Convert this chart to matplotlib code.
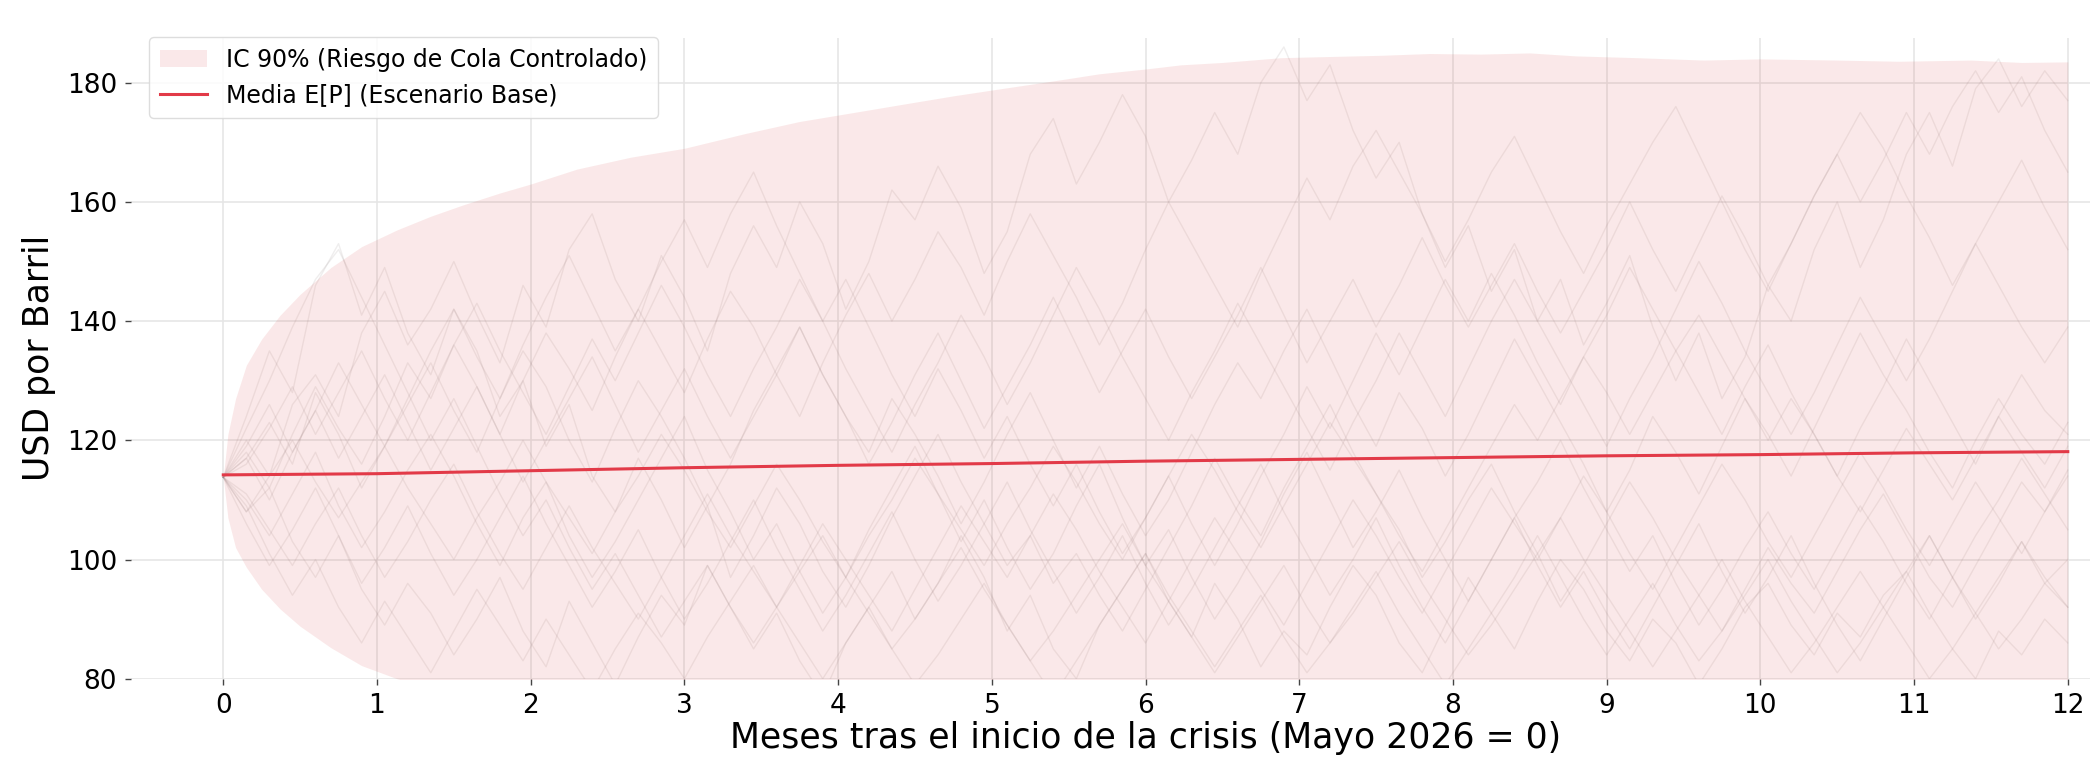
import numpy as np
import matplotlib
matplotlib.use("Agg")
import matplotlib.pyplot as plt

# --- data (USD per barrel vs months after crisis start) ---
band_t = [0, 0.03, 0.08, 0.15, 0.25, 0.37, 0.5, 0.7, 0.9, 1.13, 1.35, 1.56, 1.8, 2.0,
          2.3, 2.65, 3.0, 3.4, 3.75, 4.1, 4.4, 4.75, 5.06, 5.4, 5.7, 6.0, 6.23, 6.5,
          6.88, 7.2, 7.53, 7.85, 8.18, 8.5, 8.8, 9.2, 9.63, 10.0, 10.5, 10.9, 11.37,
          11.7, 12.0]
band_upper = [113.8, 121, 127, 132.6, 137, 141, 144.5, 149, 152.5, 155.3, 157.6, 159.5,
              161.5, 163, 165.5, 167.5, 169, 171.5, 173.5, 175, 176.3, 177.8, 179, 180.3,
              181.5, 182.3, 183.0, 183.4, 184.2, 184.4, 184.6, 184.9, 184.8, 185, 184.5,
              184.2, 183.8, 184, 183.8, 183.6, 183.8, 183.4, 183.5]
band_lower = [113.8, 107, 102, 98.7, 95, 91.7, 88.8, 85.2, 82.2, 80.0, 78.3, 77, 75.8, 75,
              74, 73, 72.3, 71.7, 71.2, 70.8, 70.5, 70.2, 70, 69.8, 69.6, 69.5, 69.4, 69.3,
              69.2, 69.1, 69, 69, 68.9, 68.9, 68.8, 68.8, 68.7, 68.7, 68.6, 68.6, 68.6,
              68.6, 68.6]

mean_t = [0, 1, 2, 3, 4, 5, 6, 7, 8, 9, 10, 11, 12]
mean_price = [114.2, 114.4, 114.9, 115.4, 115.8, 116.1, 116.5, 116.8, 117.1, 117.4,
              117.6, 117.9, 118.1]

# a sample of the simulated paths (roughly traced, 0.15-month steps)
path_01 = [113.8, 120, 114, 126, 131, 124, 138, 145, 136, 142, 150, 141, 133, 146, 139, 152, 158, 147, 140, 151,
           144, 135, 148, 156, 149, 160, 153, 142, 150, 162, 157, 166, 159, 148, 155, 168, 174, 163, 170, 178,
           171, 160, 167, 175, 168, 180, 186, 177, 183, 172, 164, 170, 158, 149, 156, 145, 152, 140, 147, 136,
           143, 151, 139, 130, 138, 127, 134, 146, 140, 152, 160, 149, 157, 168, 175, 166, 179, 184, 176, 182, 177]
path_02 = [113.8, 108, 112, 103, 97, 104, 95, 89, 96, 91, 84, 90, 97, 88, 82, 93, 86, 79, 87, 94,
           89, 99, 92, 85, 91, 83, 77, 86, 92, 98, 90, 96, 104, 97, 88, 94, 85, 80, 89, 95,
           101, 93, 87, 96, 90, 82, 88, 84, 92, 99, 94, 86, 81, 89, 97, 91, 85, 93, 100, 95,
           88, 83, 90, 86, 79, 85, 92, 96, 89, 84, 91, 87, 94, 98, 91, 85, 80, 88, 84, 90, 86]
path_03 = [113.8, 117, 123, 116, 128, 121, 112, 119, 126, 133, 125, 118, 127, 135, 129, 120, 113, 122, 130, 124,
           117, 109, 116, 125, 132, 139, 131, 124, 118, 127, 121, 114, 106, 113, 121, 128, 120, 112, 119, 111,
           104, 110, 118, 126, 133, 127, 135, 142, 134, 126, 119, 128, 122, 114, 121, 129, 137, 130, 123, 116,
           108, 115, 124, 118, 111, 119, 127, 121, 114, 122, 130, 138, 131, 125, 118, 112, 120, 127, 121, 116, 123]
path_04 = [113.8, 124, 135, 128, 146, 153, 141, 149, 138, 131, 142, 135, 124, 130, 119, 126, 114, 108, 117, 110,
           102, 109, 97, 104, 112, 106, 98, 92, 99, 107, 114, 121, 113, 106, 99, 104, 96, 101, 94, 88,
           95, 102, 109, 117, 110, 104, 112, 119, 126, 118, 111, 105, 97, 103, 110, 116, 108, 101, 93, 99,
           106, 113, 107, 100, 94, 88, 95, 102, 96, 91, 98, 105, 111, 104, 97, 92, 99, 106, 113, 108, 115]
path_05 = [113.8, 110, 104, 111, 118, 109, 102, 108, 115, 121, 114, 106, 99, 107, 113, 104, 97, 103, 110, 117,
           124, 115, 108, 100, 106, 98, 91, 97, 105, 112, 119, 111, 103, 110, 102, 95, 101, 109, 116, 107,
           99, 105, 97, 90, 96, 103, 111, 118, 110, 102, 108, 115, 107, 100, 93, 100, 107, 113, 120, 112,
           105, 98, 104, 96, 89, 95, 102, 108, 101, 95, 102, 109, 103, 96, 90, 97, 104, 110, 117, 111, 105]
path_06 = [113.8, 118, 112, 121, 129, 122, 116, 124, 133, 127, 136, 129, 121, 130, 138, 132, 125, 134, 142, 135,
           128, 137, 145, 139, 131, 124, 133, 141, 148, 140, 147, 155, 149, 141, 150, 158, 151, 144, 136, 143,
           152, 160, 153, 146, 139, 148, 156, 164, 157, 166, 172, 165, 158, 150, 157, 165, 171, 163, 155, 148,
           156, 163, 170, 176, 168, 160, 152, 145, 153, 161, 168, 175, 169, 161, 154, 146, 153, 160, 167, 159, 152]
path_07 = [113.8, 106, 99, 105, 112, 104, 96, 102, 109, 101, 94, 100, 107, 114, 106, 99, 92, 98, 105, 97,
           90, 96, 103, 110, 102, 95, 88, 94, 101, 108, 100, 93, 99, 106, 113, 105, 98, 91, 97, 104,
           96, 89, 95, 102, 109, 116, 108, 101, 94, 100, 107, 99, 92, 86, 93, 100, 107, 99, 92, 98,
           91, 85, 92, 99, 106, 98, 91, 97, 104, 96, 89, 83, 90, 97, 104, 97, 90, 96, 103, 96, 100]
path_08 = [113.8, 119, 126, 118, 125, 133, 126, 119, 127, 135, 142, 134, 127, 136, 144, 151, 143, 135, 142, 150,
           157, 149, 158, 165, 156, 148, 140, 147, 139, 131, 124, 132, 125, 117, 124, 116, 109, 116, 108, 101,
           107, 114, 106, 99, 106, 114, 121, 129, 122, 130, 138, 131, 139, 147, 140, 148, 141, 133, 126, 134,
           141, 149, 142, 135, 128, 121, 129, 136, 128, 121, 114, 122, 129, 137, 130, 123, 116, 124, 131, 125, 121]
path_09 = [113.8, 109, 101, 94, 100, 92, 86, 93, 87, 81, 88, 95, 89, 83, 90, 84, 78, 85, 91, 86,
           80, 87, 93, 99, 92, 86, 80, 86, 92, 85, 79, 84, 90, 96, 89, 83, 77, 83, 89, 95,
           101, 94, 88, 82, 88, 94, 87, 81, 86, 92, 98, 91, 85, 79, 85, 91, 97, 104, 97, 90,
           84, 90, 96, 89, 83, 88, 94, 100, 93, 87, 81, 86, 92, 98, 104, 97, 91, 85, 90, 96, 92]
path_10 = [113.8, 116, 122, 129, 121, 128, 135, 127, 120, 128, 136, 143, 135, 128, 121, 129, 137, 130, 138, 146,
           139, 131, 124, 132, 139, 147, 140, 132, 125, 118, 126, 133, 141, 134, 126, 133, 141, 149, 142, 134,
           127, 120, 128, 135, 143, 136, 129, 122, 115, 123, 130, 138, 131, 124, 132, 140, 147, 140, 133, 126,
           119, 127, 134, 142, 150, 143, 135, 128, 121, 128, 136, 144, 137, 130, 137, 145, 153, 146, 139, 133, 139]
path_11 = [113.8, 111, 105, 99, 106, 112, 104, 97, 103, 110, 116, 108, 101, 95, 102, 109, 102, 96, 90, 97,
           104, 111, 104, 98, 92, 99, 106, 100, 94, 88, 95, 102, 109, 103, 97, 104, 111, 105, 98, 92,
           86, 93, 100, 107, 101, 95, 89, 96, 103, 110, 104, 97, 91, 98, 105, 112, 106, 100, 107, 114,
           108, 101, 95, 102, 109, 116, 110, 103, 97, 104, 111, 118, 112, 105, 99, 106, 113, 107, 101, 108, 114]
path_12 = [113.8, 117, 110, 118, 125, 117, 124, 131, 123, 115, 122, 129, 121, 113, 120, 127, 134, 126, 118, 125,
           132, 124, 117, 124, 131, 139, 131, 124, 116, 123, 131, 138, 130, 122, 129, 136, 144, 136, 128, 135,
           142, 134, 127, 134, 141, 149, 141, 133, 140, 147, 139, 146, 154, 146, 139, 146, 153, 145, 138, 145,
           152, 160, 152, 145, 153, 161, 154, 146, 153, 161, 168, 160, 167, 175, 168, 176, 182, 175, 181, 172, 165]
path_13 = [113.8, 122, 130, 139, 147, 152, 144, 136, 128, 120, 127, 119, 111, 104, 110, 102, 95, 101, 94, 87,
           93, 99, 92, 86, 92, 98, 104, 97, 91, 85, 90, 96, 102, 95, 89, 83, 88, 94, 100, 106,
           99, 93, 87, 81, 87, 93, 99, 92, 86, 91, 97, 103, 96, 90, 84, 89, 95, 101, 107, 100,
           94, 88, 82, 88, 94, 100, 93, 87, 81, 86, 92, 98, 92, 86, 80, 85, 91, 97, 103, 97, 92]
path_14 = [113.8, 108, 114, 120, 113, 107, 113, 119, 112, 106, 100, 107, 113, 120, 113, 107, 101, 108, 114, 121,
           115, 108, 102, 109, 116, 110, 103, 97, 104, 110, 117, 111, 105, 99, 106, 112, 119, 113, 106, 100,
           107, 114, 121, 115, 108, 102, 109, 116, 123, 117, 111, 104, 98, 105, 112, 119, 126, 120, 127, 134,
           128, 121, 128, 135, 141, 134, 127, 120, 127, 121, 114, 108, 115, 122, 116, 110, 117, 124, 118, 112, 119]
paths = [path_01, path_02, path_03, path_04, path_05, path_06, path_07,
         path_08, path_09, path_10, path_11, path_12, path_13, path_14]

y_ticks = [80, 100, 120, 140, 160, 180]
x_ticks = list(range(0, 13))

plt.rcParams['font.family'] = 'DejaVu Sans'

fig = plt.figure(figsize=(20.9, 7.65), dpi=100)
# axes runs a bit past the right edge (reference is cropped there)
ax = fig.add_axes([0.0627, 0.1128, 0.9708, 0.8375])

for p in paths:
    ax.plot(np.linspace(0, 12, len(p)), p, color='#8a7f7f', alpha=0.13, lw=1.0, zorder=1)

ax.fill_between(band_t, band_lower, band_upper, color='#d62728', alpha=0.1, lw=0,
                label='IC 90% (Riesgo de Cola Controlado)', zorder=2)
ax.plot(mean_t, mean_price, color='#e23a48', lw=2.2, label='Media E[P] (Escenario Base)', zorder=3)

ax.set_xlim(-0.6, 12.6)
ax.set_ylim(80, 187.5)
ax.set_xticks(x_ticks)
ax.set_yticks(y_ticks)
ax.grid(True, color='#e6e6e6', lw=1.2)
ax.set_axisbelow(True)
for s in ax.spines.values():
    s.set_visible(False)
ax.tick_params(labelsize=19, length=4, width=1, color='#444444', pad=6)

ax.set_xlabel('Meses tras el inicio de la crisis (Mayo 2026 = 0)', fontsize=25, labelpad=2)
ax.set_ylabel('USD por Barril', fontsize=25, labelpad=8)

leg = ax.legend(loc='upper left', bbox_to_anchor=(0.003, 1.02), fontsize=17, frameon=True,
                framealpha=0.85, edgecolor='#d8d8d8', fancybox=True, borderpad=0.45)

fig.savefig('out.png', dpi=100)
